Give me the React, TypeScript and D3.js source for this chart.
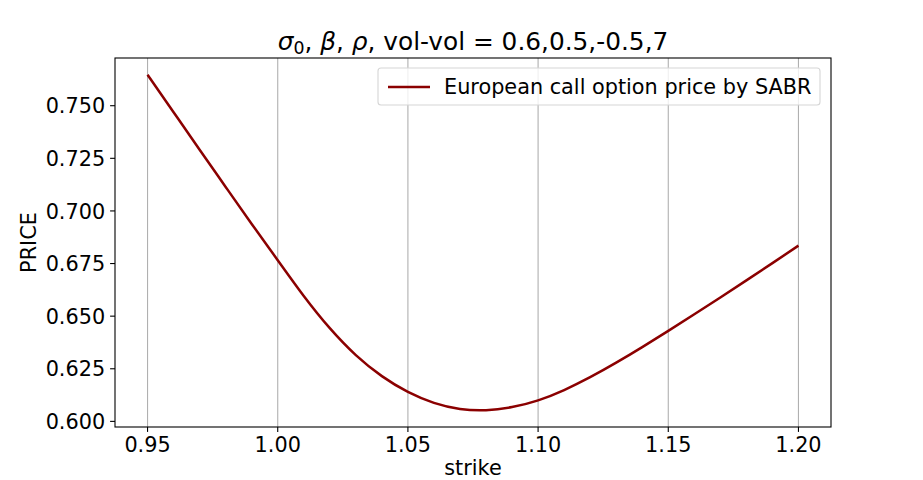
import React from "react";
import * as d3 from "d3";

const strikes = [
  0.95, 0.96, 0.97, 0.98, 0.99, 1.0, 1.01, 1.02, 1.03, 1.04, 1.05, 1.06, 1.07,
  1.08, 1.09, 1.1, 1.11, 1.12, 1.13, 1.14, 1.15, 1.16, 1.17, 1.18, 1.19, 1.2,
];
const prices = [
  0.7647, 0.7469, 0.7291, 0.7114, 0.6938, 0.6766, 0.6596, 0.6443, 0.6315,
  0.6215, 0.614, 0.6088, 0.6059, 0.6053, 0.6068, 0.61, 0.6149, 0.621, 0.6279,
  0.6353, 0.643, 0.6509, 0.6589, 0.667, 0.6752, 0.6835,
];
const xTicks = [0.95, 1.0, 1.05, 1.1, 1.15, 1.2];
const yTicks = [0.6, 0.625, 0.65, 0.675, 0.7, 0.725, 0.75];
const seriesName = "European call option price by SABR";

const W = 923;
const H = 480;
const L = 115;
const R = 831;
const T = 58;
const B = 427;
const FONT = "DejaVu Sans";
const LINE_COLOR = "#8b0000";

export default function App() {
  const xMin = d3.min(strikes)!;
  const xMax = d3.max(strikes)!;
  const yMin = d3.min(prices)!;
  const yMax = d3.max(prices)!;
  const xPad = (xMax - xMin) * 0.05;
  const yPad = (yMax - yMin) * 0.05;
  const x = d3.scaleLinear().domain([xMin - xPad, xMax + xPad]).range([L, R]);
  const y = d3.scaleLinear().domain([yMin - yPad, yMax + yPad]).range([B, T]);
  const data = strikes.map((s, i) => [s, prices[i]] as [number, number]);
  const line = d3
    .line<[number, number]>()
    .x((d) => x(d[0]))
    .y((d) => y(d[1]))
    .curve(d3.curveNatural);

  const tickLen = 4.9;
  const tickFs = 20.8;
  const labelFs = 20.8;
  const titleFs = 24.8;

  return (
    <svg
      width={W}
      height={H}
      style={{ position: "absolute", left: 0, top: 0, background: "#fff" }}
      fontFamily={FONT}
    >
      <rect x={0} y={0} width={W} height={H} fill="#fff" />
      {/* grid */}
      {xTicks.map((t) => (
        <line
          key={"g" + t}
          x1={x(t)}
          x2={x(t)}
          y1={T}
          y2={B}
          stroke="#b0b0b0"
          strokeWidth={1.1}
        />
      ))}
      {/* curve */}
      <path d={line(data) || ""} fill="none" stroke={LINE_COLOR} strokeWidth={2.5} />
      {/* spines */}
      <rect x={L} y={T} width={R - L} height={B - T} fill="none" stroke="#000" strokeWidth={1.1} />
      {/* x ticks */}
      {xTicks.map((t) => (
        <g key={"x" + t}>
          <line x1={x(t)} x2={x(t)} y1={B} y2={B + tickLen} stroke="#000" strokeWidth={1.1} />
          <text x={x(t)} y={452} textAnchor="middle" fontSize={tickFs} fill="#000">
            {t.toFixed(2)}
          </text>
        </g>
      ))}
      {/* y ticks */}
      {yTicks.map((t) => (
        <g key={"y" + t}>
          <line x1={L - tickLen} x2={L} y1={y(t)} y2={y(t)} stroke="#000" strokeWidth={1.1} />
          <text
            x={L - tickLen - 4.9}
            y={y(t) + 7.6}
            textAnchor="end"
            fontSize={tickFs}
            fill="#000"
          >
            {t.toFixed(3)}
          </text>
        </g>
      ))}
      {/* axis labels */}
      <text x={(L + R) / 2} y={475} textAnchor="middle" fontSize={labelFs} fill="#000">
        strike
      </text>
      <text
        transform={`translate(36,${(T + B) / 2}) rotate(-90)`}
        textAnchor="middle"
        fontSize={labelFs}
        fill="#000"
      >
        PRICE
      </text>
      {/* title */}
      <text x={(L + R) / 2} y={50} textAnchor="middle" fontSize={titleFs} fill="#000">
        <tspan fontStyle="italic">σ</tspan>
        <tspan fontSize={titleFs * 0.7} dy={4}>0</tspan>
        <tspan dy={-4}>, </tspan>
        <tspan fontStyle="italic">β</tspan>
        <tspan>, </tspan>
        <tspan fontStyle="italic">ρ</tspan>
        <tspan>, vol-vol = 0.6,0.5,-0.5,7</tspan>
      </text>
      {/* legend */}
      <rect
        x={378}
        y={68}
        width={442}
        height={37}
        rx={3}
        fill="#fff"
        fillOpacity={0.8}
        stroke="#d6d6d6"
        strokeWidth={1.1}
      />
      <line x1={388} x2={430} y1={87} y2={87} stroke={LINE_COLOR} strokeWidth={2.5} />
      <text x={444} y={94} fontSize={labelFs} fill="#000">
        {seriesName}
      </text>
    </svg>
  );
}
